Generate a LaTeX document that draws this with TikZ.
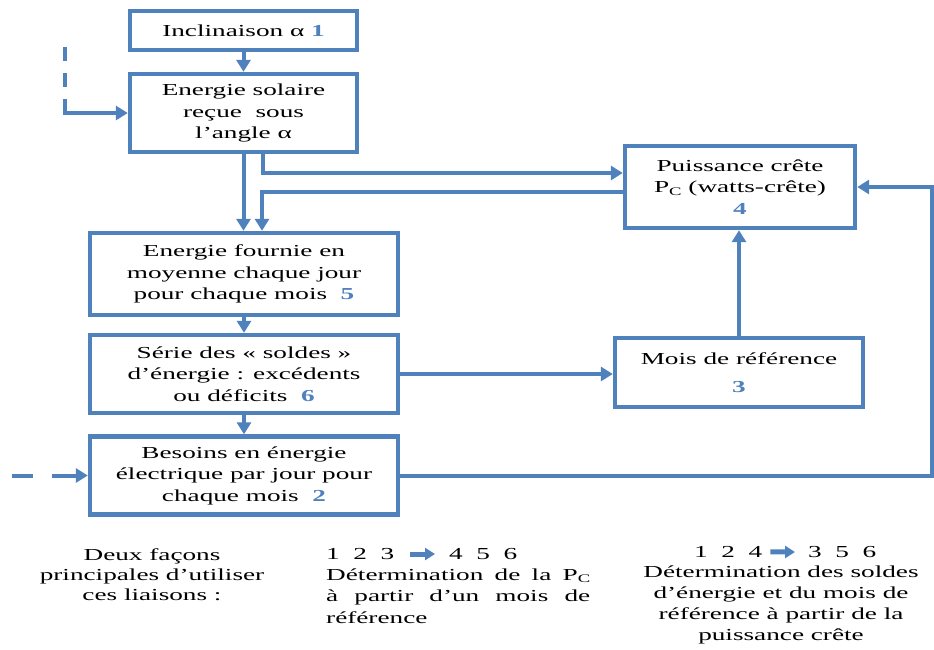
\documentclass[tikz,border=0pt]{standalone}
\usepackage{fontspec}
\setmainfont{Liberation Serif}[FakeStretch=1.62]
\usetikzlibrary{arrows.meta}
\definecolor{bblue}{RGB}{79,129,189}
\definecolor{nblue}{RGB}{79,129,189}
\newcommand\bnum[1]{{\bfseries\color{nblue}#1}}
\newcommand\subc{\raisebox{-2.5pt}{\fontsize{11.5}{11.5}\selectfont C}}
\tikzset{
  box/.style={draw=bblue, line width=4.4pt, inner sep=0pt, align=center,
    font=\fontsize{16.8}{21.5}\selectfont, text=black},
  conn/.style={draw=bblue, line width=4pt, -{Triangle[length=12pt,width=14pt]}},
  sarr/.style={draw=bblue, line width=5pt, -{Triangle[length=10pt,width=12pt]}},
  txt/.style={font=\fontsize{16.8}{21.5}\selectfont, inner sep=0pt, text=black}
}
\begin{document}
\begin{tikzpicture}[x=1pt,y=-1pt]
\useasboundingbox (0,0) rectangle (934,649);
% boxes
\node[box, minimum width=227pt, minimum height=39pt] (b1) at (243.5,30.5) {Inclinaison α \bnum{1}};
\node[box, minimum width=227pt, minimum height=78pt] (b2) at (243.5,113) {Energie solaire\\reçue\ \ sous\\l’angle α};
\node[box, minimum width=308pt, minimum height=82pt] (b3) at (244,274) {Energie fournie en\\moyenne chaque jour\\pour chaque mois\ \ \bnum{5}};
\node[box, minimum width=308pt, minimum height=78pt] (b6) at (244,374) {Série des « soldes »\\d’énergie : excédents\\ou déficits\ \ \bnum{6}};
\node[box, minimum width=308pt, minimum height=78pt] (bes) at (244,475.5) {Besoins en énergie\\électrique par jour pour\\chaque mois\ \ \bnum{2}};
\node[box, minimum width=230pt, minimum height=82pt] (b4) at (740,187) {Puissance crête\\P\subc{} (watts-crête)\\\bnum{4}};
\node[box, minimum width=248pt, minimum height=69pt] (mois) at (739,372.5) {Mois de référence\\[6pt]\bnum{3}};
% free ends
\coordinate (d1) at (65,47);
\coordinate (d2) at (12,475.5);
\coordinate (rt) at (932,187);
% connectors
\draw[conn] (b1.south) -- (b2.north);
\draw[conn] (b2.south) -- (b2.south |- b3.north);
\draw[conn] ([xshift=19pt]b2.south) |- ([yshift=14pt]b4.west);
\draw[conn] ([yshift=-5pt]b4.west) -| ([xshift=18pt]b3.north);
\draw[conn] (b3.south) -- (b6.north);
\draw[conn] (b6.south) -- (bes.north);
\draw[conn] (b6.east) -- (b6.east -| mois.west);
\draw[conn] (mois.north) -- (mois.north |- b4.south);
\draw[conn] (bes.east) -| (rt) -- (b4.east);
\draw[conn, dash pattern=on 14pt off 12pt on 14pt off 12pt on 400pt off 1pt] (d1) |- (b2.west);
\draw[conn, dash pattern=on 21pt off 19pt on 400pt off 1pt] (d2) -- (bes.west);
% bottom texts
\node[txt, font=\fontsize{16.8}{20.3}\selectfont, align=center, anchor=north] (t0) at (152,548) {Deux façons\\principales d’utiliser\\ces liaisons :};
\node[txt, anchor=base west] (s1) at (326,559.5) {1\ \ 2\ \ 3};
\node[txt, anchor=base west] (s2) at (449,559.5) {4\ \ 5\ \ 6};
\draw[sarr, shorten <=16pt, shorten >=14pt] (s1.east) -- (s2.west);
\node[txt, align=left, anchor=north west] (t1) at (326,568.5) {\makebox[264pt][s]{Détermination de la P\subc}\\\makebox[264pt][s]{à partir d’un mois de}\\référence};
\node[txt, anchor=base west] (s3) at (694,557.5) {1\ \ 2\ \ 4};
\node[txt, anchor=base west] (s4) at (808,557.5) {3\ \ 5\ \ 6};
\draw[sarr, shorten <=8pt, shorten >=13pt] (s3.east) -- (s4.west);
\node[txt, font=\fontsize{16.8}{20.9}\selectfont, align=center, anchor=north] (t2) at (781,566) {Détermination des soldes\\d’énergie et du mois de\\référence à partir de la\\puissance crête};
\end{tikzpicture}
\end{document}
